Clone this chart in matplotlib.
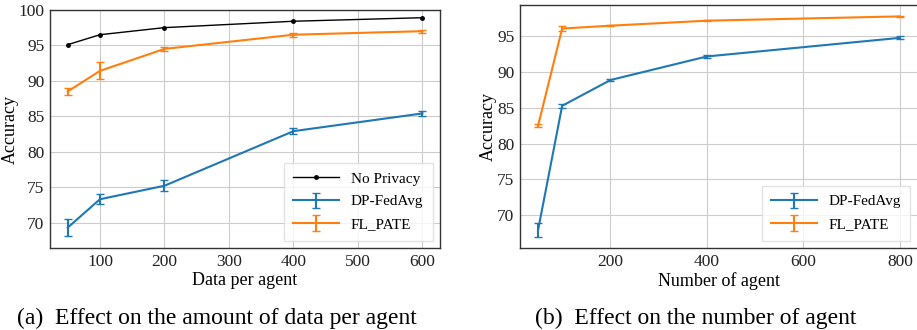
import matplotlib
matplotlib.use("Agg")
import matplotlib.pyplot as plt

plt.rcParams['font.family'] = ['Liberation Serif', 'DejaVu Serif']

# Panel (a): data per agent
data_x = [50, 100, 200, 400, 600]
nopriv_a = [95.1, 96.5, 97.5, 98.4, 98.9]
dpfed_a = [69.3, 73.3, 75.2, 82.9, 85.4]
dpfed_a_err = [1.2, 0.7, 0.8, 0.4, 0.3]
flpate_a = [88.5, 91.4, 94.5, 96.5, 97.0]
flpate_a_err = [0.5, 1.2, 0.3, 0.3, 0.2]

# Panel (b): number of agents
agent_x = [50, 100, 200, 400, 800]
dpfed_b = [67.9, 85.3, 88.9, 92.2, 94.8]
dpfed_b_err = [1.0, 0.3, 0.2, 0.2, 0.2]
flpate_b = [82.5, 96.1, 96.5, 97.2, 97.8]
flpate_b_err = [0.2, 0.4, 0.1, 0.1, 0.1]

xticks_a = [100, 200, 300, 400, 500, 600]
yticks_a = [70, 75, 80, 85, 90, 95, 100]
xticks_b = [200, 400, 600, 800]
yticks_b = [70, 75, 80, 85, 90, 95]

blue = '#1f77b4'
orange = '#ff7f0e'

fig = plt.figure(figsize=(9.17, 3.30), dpi=100)
ax1 = fig.add_axes([0.0545, 0.248, 0.4255, 0.722])
ax2 = fig.add_axes([0.567, 0.248, 0.434, 0.737])

def style(ax):
    ax.grid(True, color='#cccccc', linewidth=0.8)
    ax.set_axisbelow(True)
    for s in ax.spines.values():
        s.set_color('#333333')
        s.set_linewidth(1.0)
    ax.tick_params(length=0, labelsize=12.5, pad=4, colors='#222222')

ax1.plot(data_x, nopriv_a, color='black', marker='.', markersize=5, linewidth=1.0, label='No Privacy')
ax1.errorbar(data_x, dpfed_a, yerr=dpfed_a_err, color=blue, linewidth=1.5, capsize=3, label='DP-FedAvg')
ax1.errorbar(data_x, flpate_a, yerr=flpate_a_err, color=orange, linewidth=1.5, capsize=3, label='FL_PATE')
ax1.set_xlim(22.5, 627.5)
ax1.set_ylim(66.4, 100.0)
ax1.set_xticks(xticks_a)
ax1.set_yticks(yticks_a)
style(ax1)
ax1.set_xlabel('Data per agent', fontsize=13, labelpad=2)
ax1.set_ylabel('Accuracy', fontsize=13, labelpad=0)
leg1 = ax1.legend(loc='lower right', fontsize=11, frameon=True, fancybox=False,
                  handlelength=3.0, borderpad=0.6, labelspacing=0.6)
leg1.get_frame().set_edgecolor('#dddddd')

ax2.errorbar(agent_x, dpfed_b, yerr=dpfed_b_err, color=blue, linewidth=1.5, capsize=3, label='DP-FedAvg')
ax2.errorbar(agent_x, flpate_b, yerr=flpate_b_err, color=orange, linewidth=1.5, capsize=3, label='FL_PATE')
ax2.set_xlim(12.5, 837.5)
ax2.set_ylim(65.4, 99.4)
ax2.set_xticks(xticks_b)
ax2.set_yticks(yticks_b)
style(ax2)
ax2.set_xlabel('Number of agent', fontsize=13, labelpad=2)
ax2.set_ylabel('Accuracy', fontsize=13, labelpad=0)
leg2 = ax2.legend(loc='lower right', fontsize=11, frameon=True, fancybox=False,
                  handlelength=3.0, borderpad=0.6, labelspacing=0.6)
leg2.get_frame().set_edgecolor('#dddddd')

fig.text(0.237, 0.035, '(a)  Effect on the amount of data per agent', ha='center', va='center', fontsize=17)
fig.text(0.759, 0.035, '(b)  Effect on the number of agent', ha='center', va='center', fontsize=17)

fig.savefig('out.png', dpi=100)
